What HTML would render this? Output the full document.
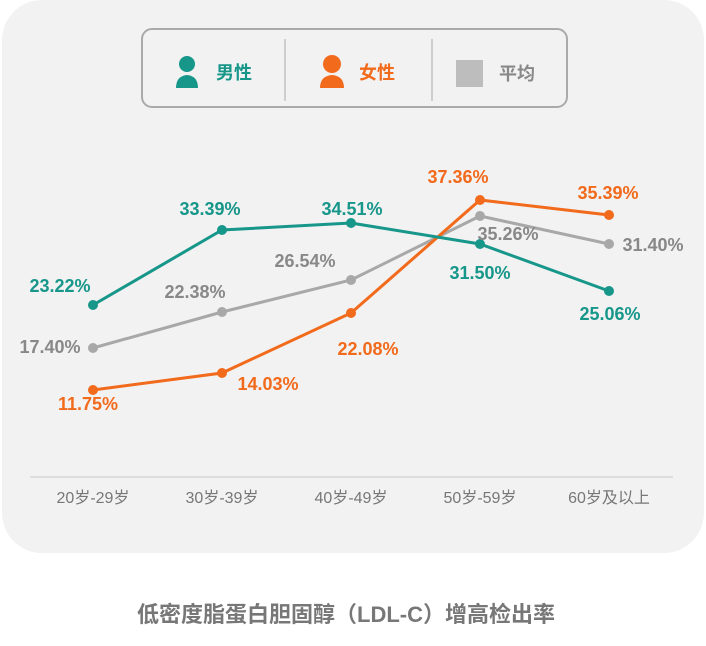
<!DOCTYPE html>
<html><head><meta charset="utf-8"><style>
body{margin:0;background:#fff;width:706px;height:641px;overflow:hidden;font-family:"Liberation Sans","Noto Sans CJK SC",sans-serif}
</style></head><body>
<svg width="706" height="641" xmlns="http://www.w3.org/2000/svg" style="font-family:'Liberation Sans','Noto Sans CJK SC',sans-serif">
<rect x="2" y="0" width="702" height="553" rx="40" fill="#f2f2f2"/>
<rect x="142" y="29" width="425" height="78" rx="10" fill="#f2f2f2" stroke="#aaa" stroke-width="2"/>
<line x1="285" y1="39" x2="285" y2="101" stroke="#aaa"/>
<line x1="432" y1="39" x2="432" y2="101" stroke="#aaa"/>
<g fill="#17968a"><circle cx="187" cy="64" r="8"/><path d="M176,88 q0,-12 11,-13 q11,1 11,13 z"/></g>
<text x="216" y="79" font-size="18" font-weight="bold" fill="#17968a">男性</text>
<g fill="#f26a1b"><circle cx="332" cy="64" r="9"/><path d="M320,88 q0,-12 12,-13 q12,1 12,13 z"/></g>
<text x="359" y="79" font-size="18" font-weight="bold" fill="#f26a1b">女性</text>
<rect x="456" y="60" width="27" height="27" fill="#bdbdbd"/>
<text x="499" y="80" font-size="18" font-weight="bold" fill="#888">平均</text>
<line x1="30" y1="477" x2="673" y2="477" stroke="#ddd" stroke-width="2"/>
<g font-size="16" fill="#777" text-anchor="middle">
<text x="93" y="503">20岁-29岁</text><text x="222" y="503">30岁-39岁</text><text x="351" y="503">40岁-49岁</text><text x="480" y="503">50岁-59岁</text><text x="609" y="503">60岁及以上</text></g>
<polyline points="93,348 222,312 351,280 480,216 609,244" fill="none" stroke="#a8a8a8" stroke-width="3"/>
<polyline points="93,390 222,373 351,313 480,200 609,215" fill="none" stroke="#f26a1b" stroke-width="3"/>
<polyline points="93,305 222,230 351,223 480,244 609,291" fill="none" stroke="#17968a" stroke-width="3"/>
<g fill="#a8a8a8"><circle cx="93" cy="348" r="5"/><circle cx="222" cy="312" r="5"/><circle cx="351" cy="280" r="5"/><circle cx="480" cy="216" r="5"/><circle cx="609" cy="244" r="5"/></g>
<g fill="#f26a1b"><circle cx="93" cy="390" r="5"/><circle cx="222" cy="373" r="5"/><circle cx="351" cy="313" r="5"/><circle cx="480" cy="200" r="5"/><circle cx="609" cy="215" r="5"/></g>
<g fill="#17968a"><circle cx="93" cy="305" r="5"/><circle cx="222" cy="230" r="5"/><circle cx="351" cy="223" r="5"/><circle cx="480" cy="244" r="5"/><circle cx="609" cy="291" r="5"/></g>
<g font-size="18" font-weight="bold" text-anchor="middle">
<g fill="#17968a"><text x="60" y="292">23.22%</text><text x="210" y="215">33.39%</text><text x="352" y="215">34.51%</text><text x="480" y="279">31.50%</text><text x="610" y="320">25.06%</text></g>
<g fill="#f26a1b"><text x="88" y="410">11.75%</text><text x="268" y="390">14.03%</text><text x="368" y="355">22.08%</text><text x="458" y="183">37.36%</text><text x="608" y="199">35.39%</text></g>
<g fill="#888"><text x="50" y="353">17.40%</text><text x="195" y="298">22.38%</text><text x="305" y="267">26.54%</text><text x="508" y="240">35.26%</text><text x="653" y="251">31.40%</text></g>
</g>
<text x="346" y="622" font-size="22" font-weight="bold" fill="#777" text-anchor="middle">低密度脂蛋白胆固醇（LDL-C）增高检出率</text>
</svg>
</body></html>
